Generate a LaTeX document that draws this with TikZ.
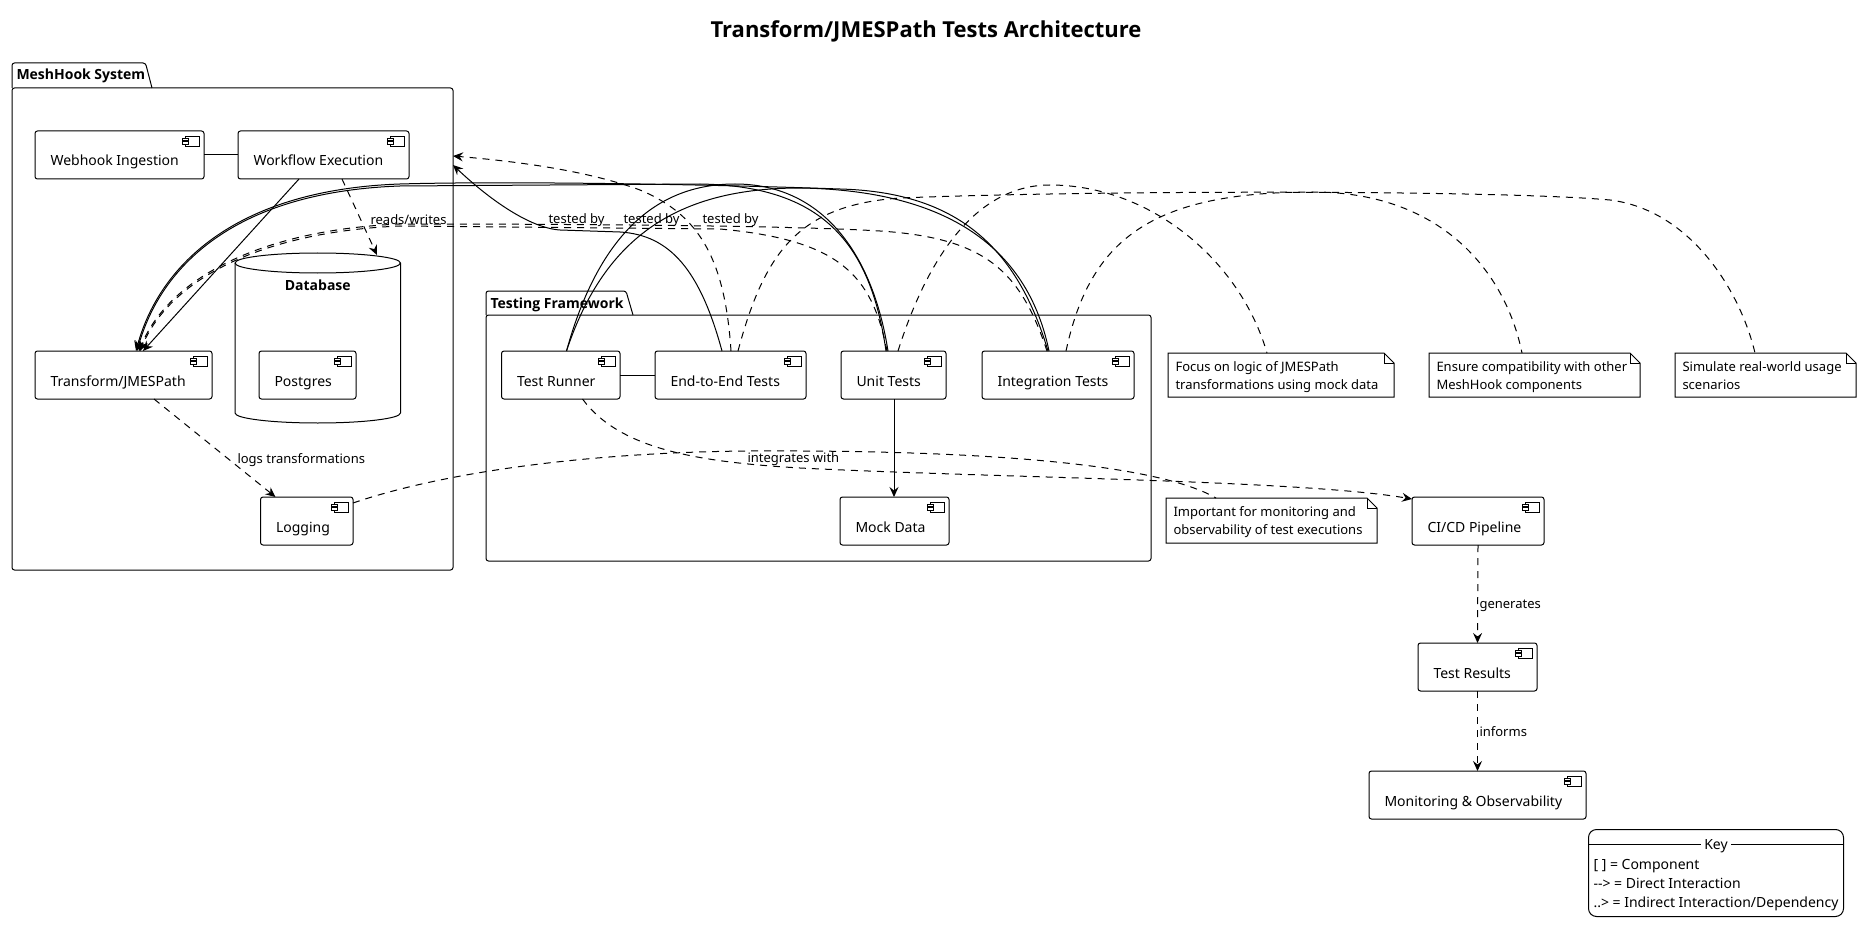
\documentclass[tikz,border=0pt]{standalone}
\usepackage{fontspec}
\setmainfont{Noto Sans}
\newfontfamily\boldfam{Open Sans}
\usetikzlibrary{arrows.meta,calc}

\newcommand\mkcomp[5]{%
  \node[compbox, minimum width=#4pt, minimum height=48pt, anchor=north west] (#1) at (#2,#3) {};
  \node[comptext, anchor=base west] (#1-t) at ([shift={(15,35)}]#1.north west) {#5};
  \draw[iconline] ([shift={(-19,5)}]#1.north east) rectangle ([shift={(-5,15)}]#1.north east);
  \draw[iconline, fill=white] ([shift={(-22,7)}]#1.north east) rectangle ([shift={(-16,9.5)}]#1.north east);
  \draw[iconline, fill=white] ([shift={(-22,10.5)}]#1.north east) rectangle ([shift={(-16,13)}]#1.north east);
}
\newcommand\mknote[7]{%
  \node[inner sep=0pt, outer sep=0pt, minimum width=#4pt, minimum height=#5pt, anchor=north west] (#1) at (#2,#3) {};
  \draw[fill=white] (#1.north west) -- ([xshift=-10pt]#1.north east) -- ([yshift=-10pt]#1.north east) -- (#1.south east) -- (#1.south west) -- cycle;
  \draw ([xshift=-10pt]#1.north east) -- ([shift={(-10,10)}]#1.north east) -- ([yshift=-10pt]#1.north east);
  \node[notetext, anchor=base west] (#1-a) at ([shift={(7,18.5)}]#1.north west) {#6};
  \node[notetext, anchor=base west] (#1-b) at ([shift={(7,36.5)}]#1.north west) {#7};
}

\begin{document}
\begin{tikzpicture}[x=1pt, y=-1pt, line width=1pt,
  compbox/.style={draw, fill=white, rounded corners=2.5pt, inner sep=0pt, outer sep=0pt},
  comptext/.style={inner sep=0pt, font=\fontsize{14pt}{16pt}\selectfont},
  notetext/.style={inner sep=0pt, font=\fontsize{13pt}{15pt}\selectfont},
  lbl/.style={inner sep=0pt, font=\fontsize{13pt}{15pt}\selectfont},
  pkglbl/.style={inner sep=0pt, font=\boldfam\bfseries\fontsize{14pt}{16pt}\selectfont},
  pkgbox/.style={draw, rounded corners=2.5pt, inner sep=0pt, outer sep=0pt},
  iconline/.style={line width=0.8pt, rounded corners=0pt},
  dsh/.style={dash pattern=on 7pt off 6pt},
  arr/.style={-{Stealth[length=10pt,width=9pt,inset=3.5pt]}},
]
\useasboundingbox (0,0) rectangle (1861,928);

% title
\node[inner sep=0pt, anchor=base, font=\boldfam\bfseries\fontsize{22pt}{26pt}\selectfont] (title) at (926,38) {Transform/JMESPath Tests Architecture};

% packages
\node[pkgbox, minimum width=441pt, minimum height=482pt, anchor=north west] (mesh) at (12,88) {};
\draw[rounded corners=2.5pt] (mesh.north west) -- ++(0,-25) -- ++(133.5,0) -- ([xshift=140pt]mesh.north west);
\node[pkglbl, anchor=base west] (meshlbl) at (16,80) {MeshHook System};

\node[pkgbox, minimum width=665pt, minimum height=246pt, anchor=north west] (testfw) at (486,315) {};
\draw[rounded corners=2.5pt] (testfw.north west) -- ++(0,-24) -- ++(140,0) -- ([xshift=147pt]testfw.north west);
\node[pkglbl, anchor=base west] (testfwlbl) at (490,308) {Testing Framework};

% database
\node[inner sep=0pt, outer sep=0pt, minimum width=165.5pt, minimum height=170pt, anchor=north west] (db) at (235,253) {};
\draw[fill=white] ([yshift=-10pt]db.north west) -- ([yshift=10pt]db.south west)
  arc[start angle=180, end angle=360, x radius=82.75pt, y radius=10pt]
  -- ([yshift=-10pt]db.north east)
  arc[start angle=0, end angle=180, x radius=82.75pt, y radius=10pt] -- cycle;
\draw ([yshift=-10pt]db.north west) arc[start angle=180, end angle=360, x radius=82.75pt, y radius=10pt];
\node[pkglbl, anchor=base] (dblbl) at (317.75,290) {Database};

% components
\mkcomp{webhook}{35}{131}{169}{Webhook Ingestion}
\mkcomp{workflow}{238}{131}{171}{Workflow Execution}
\mkcomp{transform}{35}{351}{177}{Transform/JMESPath}
\mkcomp{postgres}{259}{351}{97}{Postgres}
\mkcomp{logging}{260.5}{497}{92.5}{Logging}
\mkcomp{testrunner}{501.5}{351}{118.5}{Test Runner}
\mkcomp{e2e}{655}{351}{151}{End-to-End Tests}
\mkcomp{unit}{841}{351}{105}{Unit Tests}
\mkcomp{integration}{982}{351}{152}{Integration Tests}
\mkcomp{mock}{840}{497}{109}{Mock Data}
\mkcomp{cicd}{1412}{497}{132}{CI/CD Pipeline}
\mkcomp{testresults}{1418}{643}{119}{Test Results}
\mkcomp{monitoring}{1369}{771}{217}{Monitoring \& Observability}

% notes
\mknote{note1}{1168}{353}{226}{44}{Focus on logic of JMESPath}{transformations using mock data}
\mknote{note2}{1429}{353}{211}{44}{Ensure compatibility with other}{MeshHook components}
\mknote{note3}{1675}{353}{181}{44}{Simulate real-world usage}{scenarios}
\mknote{note4}{1166}{498}{211}{45}{Important for monitoring and}{observability of test executions}

% simple connectors
\draw (webhook.east) -- (workflow.west);
\draw[arr] ([xshift=61pt]workflow.south west) -- ([xshift=108pt]transform.north west);
\draw[dsh, arr] ([xshift=104pt]workflow.south west) -- ([shift={(142,2)}]db.north west);
\node[lbl, anchor=base west] (l-rw) at (370,225) {reads/writes};
\draw[dsh, arr] ([xshift=119pt]transform.south west) -- ([xshift=15pt]logging.north west);
\node[lbl, anchor=base west] (l-logs) at (237,463) {logs transformations};
\draw (testrunner.east) -- (e2e.west);
\draw[arr] ([xshift=53pt]unit.south west) -- ([xshift=54pt]mock.north west);
\draw[dsh, arr] (cicd.south) -- (testresults.north);
\node[lbl, anchor=base west] (l-gen) at (1479,608) {generates};
\draw[dsh, arr] (testresults.south) -- (monitoring.north);
\node[lbl, anchor=base west] (l-inf) at (1479,736) {informs};

% test runner integrates with CI/CD
\draw[dsh, arr] ([xshift=81pt]testrunner.south west) .. controls (620,450) and (700,462) .. (800,468)
  .. controls (1000,478) and (1300,480) .. ([yshift=-2pt]cicd.north west);
\node[lbl, anchor=base west] (l-int) at (747,462) {integrates with};

% logging note
\draw[dsh] ([yshift=-6pt]logging.north east) .. controls (450,470) and (600,452) .. (750,451)
  .. controls (950,450) and (1150,460) .. ([xshift=50pt]note4.north west);

% solid lines to Transform
\draw[arr] ([xshift=45pt]unit.north west) .. controls (870,240) and (820,186) .. (700,184) -- (400,186)
  .. controls (230,192) and (160,270) .. ([xshift=102pt]transform.north west);
\draw[arr] ([xshift=66pt]integration.north west) .. controls (1015,240) and (950,192) .. (840,189)
  .. controls (700,184) and (500,181) .. (400,184) .. controls (230,190) and (158,270) .. ([xshift=101pt]transform.north west);

% test runner to unit / integration
\draw ([xshift=65pt]testrunner.north west) .. controls (600,230) and (660,184) .. (735,184)
  .. controls (820,184) and (872,250) .. ([xshift=47pt]unit.north west);
\draw ([xshift=65pt]testrunner.north west) .. controls (605,235) and (680,188) .. (800,188)
  .. controls (930,190) and (1025,235) .. ([xshift=67pt]integration.north west);

% dashed tested by
\draw[dsh, arr] ([xshift=46pt]unit.north west) .. controls (872,275) and (840,240) .. (720,229) -- (400,226)
  .. controls (260,232) and (170,280) .. ([xshift=105pt]transform.north west);
\draw[dsh, arr] ([xshift=65pt]integration.north west) .. controls (1020,270) and (985,238) .. (880,231)
  .. controls (800,226) and (600,224) .. (400,224) .. controls (258,230) and (168,280) .. ([xshift=104pt]transform.north west);

% E2E to MeshHook
\draw[arr] ([xshift=67pt]e2e.north west) .. controls (700,270) and (670,235) .. (620,232) -- (560,230)
  .. controls (530,228) and (490,200) .. ([yshift=-77pt]mesh.north east);
\draw[dsh, arr] ([xshift=76pt]e2e.north west) .. controls (725,260) and (700,215) .. (640,190)
  .. controls (580,168) and (500,160) .. ([yshift=-68pt]mesh.north east);

\node[lbl, anchor=base west] (l-tb1) at (548,224) {tested by};
\node[lbl, anchor=base west] (l-tb2) at (623,224) {tested by};
\node[lbl, anchor=base west] (l-tb3) at (702,224) {tested by};

% note connectors
\draw[dsh] ([xshift=57pt]unit.north west) .. controls (930,250) and (980,185) .. (1050,185)
  .. controls (1150,185) and (1240,260) .. ([xshift=99pt]note1.north west);
\draw[dsh] ([xshift=84pt]integration.north west) .. controls (1090,240) and (1150,192) .. (1313,192)
  .. controls (1440,192) and (1505,270) .. ([xshift=93pt]note2.north west);
\draw[dsh] ([xshift=83pt]e2e.north west) .. controls (765,250) and (800,205) .. (900,198)
  .. controls (1100,190) and (1500,190) .. (1610,200) .. controls (1690,210) and (1740,290) .. ([xshift=80pt]note3.north west);

% key
\node[draw, rounded corners=8pt, inner sep=0pt, minimum width=255pt, minimum height=87pt, anchor=north west] (key) at (1588,829) {};
\draw ([yshift=-15pt]key.north west) -- ([yshift=-15pt]key.north east);
\node[fill=white, inner xsep=3pt, inner ysep=1pt, anchor=base, font=\fontsize{14pt}{16pt}\selectfont] (keyt) at (1716,849) {Key};
\node[comptext, anchor=base west] (key1) at (1593,869) {[ ] = Component};
\node[comptext, anchor=base west] (key2) at (1593,888) {-{}-> = Direct Interaction};
\node[comptext, anchor=base west] (key3) at (1593,907) {..> = Indirect Interaction/Dependency};
\end{tikzpicture}
\end{document}
